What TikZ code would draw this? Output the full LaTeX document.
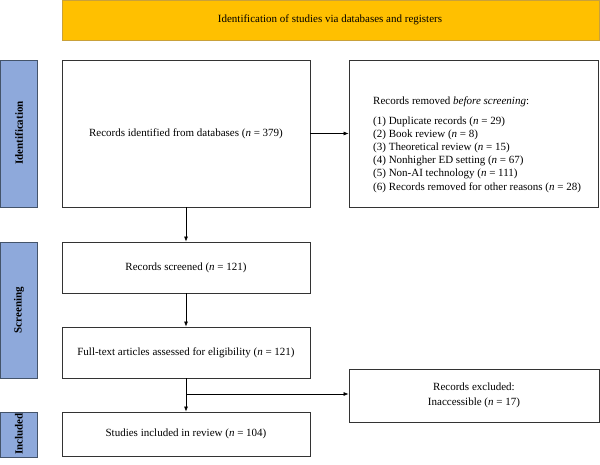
\documentclass[tikz,border=0pt]{standalone}
\usepackage{fontspec}
\setmainfont{Liberation Serif}
\usetikzlibrary{arrows.meta}
\definecolor{banner}{HTML}{FFC000}
\definecolor{bannerline}{HTML}{C9A13A}
\definecolor{barfill}{HTML}{8EA9DB}
\definecolor{barline}{HTML}{44546A}
\definecolor{boxline}{HTML}{333333}
\begin{document}
\begin{tikzpicture}[x=1pt,y=-1pt,
  every node/.style={font=\fontsize{11}{12.7}\selectfont},
  flowbox/.style={draw=boxline,line width=0.8pt,fill=white},
  sidebar/.style={draw=barline,line width=0.8pt,fill=barfill},
  bartext/.style={rotate=90,font=\fontsize{11}{12}\selectfont\bfseries},
  arr/.style={-{Latex[length=5pt,width=4pt]},line width=0.7pt,draw=black}]
\useasboundingbox (0,0) rectangle (600,465);
% banner
\draw[fill=banner,draw=bannerline,line width=0.8pt] (62,0) rectangle (599,40);
\node (banner) at (330,20) {Identification of studies via databases and registers};
% side bars
\draw[sidebar] (0,60) rectangle (37,207);
\node[bartext] (lid) at (19,133) {Identification};
\draw[sidebar] (0,242) rectangle (37,378);
\node[bartext] (lsc) at (19,310) {Screening};
\draw[sidebar] (0,412) rectangle (37,457);
\node[bartext] (lin) at (19,434) {Included};
% main boxes
\node[flowbox,minimum width=248pt,minimum height=147pt] (ident) at (186,133.5) {Records identified from databases (\textit{n} = 379)};
\node[flowbox,minimum width=248pt,minimum height=51pt] (screen) at (186,267.5) {Records screened (\textit{n} = 121)};
\node[flowbox,minimum width=248pt,minimum height=51pt] (full) at (186,352.5) {Full-text articles assessed for eligibility (\textit{n} = 121)};
\node[flowbox,minimum width=248pt,minimum height=44pt] (incl) at (186,434) {Studies included in review (\textit{n} = 104)};
% right boxes
\node[flowbox,minimum width=249pt,minimum height=147pt] (removed) at (473.5,133.5) {};
\node[anchor=north west,align=left,inner sep=0pt,font=\fontsize{11}{13.2}\selectfont] (removedtext) at (373,97) {Records removed \textit{before screening}:\\[6pt]
(1) Duplicate records (\textit{n} = 29)\\
(2) Book review (\textit{n} = 8)\\
(3) Theoretical review (\textit{n} = 15)\\
(4) Nonhigher ED setting (\textit{n} = 67)\\
(5) Non-AI technology (\textit{n} = 111)\\
(6) Records removed for other reasons (\textit{n} = 28)};
\node[flowbox,minimum width=250pt,minimum height=53pt,align=center] (excl) at (474,395.5) {Records excluded:\\[3pt]Inaccessible (\textit{n} = 17)};
% connectors
\draw[arr] (ident.east) -- (removed.west);
\draw[arr] (ident.south) -- (screen.north);
\draw[arr] (screen.south) -- (full.north);
\draw[arr] (full.south) -- (incl.north);
\coordinate (branch) at (186,394);
\draw[arr] (branch) -- (branch -| excl.west);
\end{tikzpicture}
\end{document}
